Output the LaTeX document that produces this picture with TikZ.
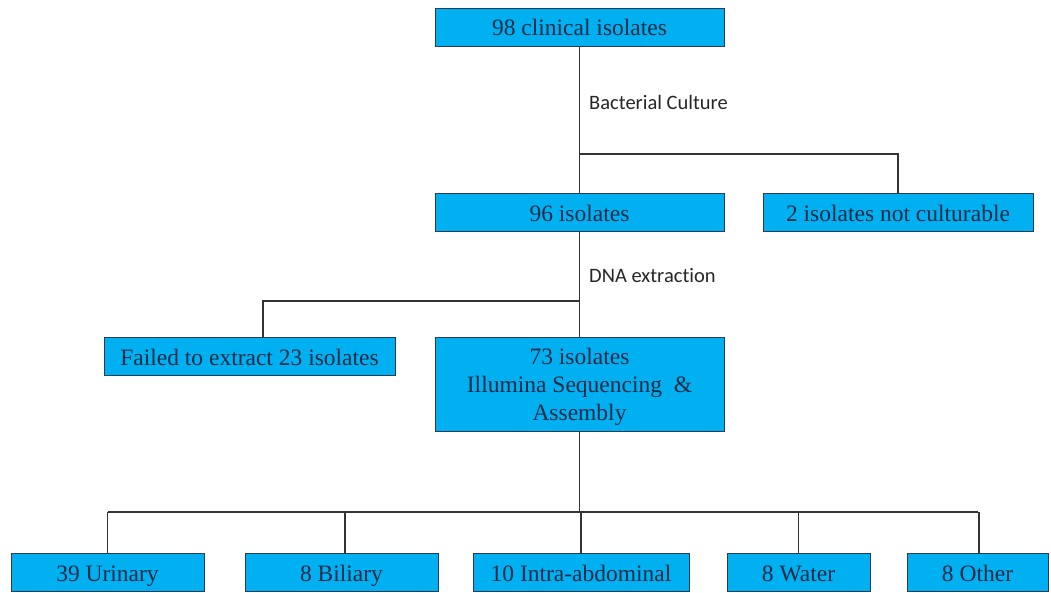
\documentclass[tikz,border=0pt]{standalone}
\usepackage{fontspec}
\setmainfont{Liberation Serif}
\newfontfamily\labelfont[Ligatures={NoCommon,NoRare}]{Carlito}
\usetikzlibrary{positioning}
\definecolor{boxblue}{HTML}{00B0F0}
\definecolor{boxedge}{HTML}{2B3A55}
\definecolor{boxtext}{HTML}{1B2A47}

\begin{document}
\begin{tikzpicture}[x=1pt,y=-1pt,
  stagebase/.style={draw=boxedge,line width=1pt,fill=boxblue,text=boxtext,
    inner sep=0pt,minimum height=38pt,align=center,
    font=\fontsize{23.5}{28}\selectfont},
  stage/.style={stagebase,text height=19pt,text depth=2pt},
  steplabel/.style={anchor=west,inner sep=0pt,text=black!85,
    font=\labelfont\fontsize{20.5}{24}\selectfont},
  link/.style={draw=black!80,line width=1.1pt}]
\useasboundingbox (0,0) rectangle (1051,592);

\node[stage,minimum width=289pt] (clinical) at (579.5,27) {98 clinical isolates};
\node[stage,minimum width=289pt] (cultured) at (579.5,212.5) {96 isolates};
\node[stage,minimum width=270pt] (notcult) at (898,212.5) {2 isolates not culturable};
\node[stage,minimum width=291pt] (failed) at (249.5,356.5) {Failed to extract 23 isolates};
\node[stagebase,minimum width=289pt,minimum height=94pt] (seq) at (579.5,384)
  {\rule{0pt}{23pt}73 isolates\\Illumina Sequencing \ \&\\Assembly};

\node[stage,minimum width=193pt] (urinary) at (107.5,572.5) {39 Urinary};
\node[stage,minimum width=193pt] (biliary) at (341.5,572.5) {8 Biliary};
\node[stage,minimum width=216pt] (intra) at (581,572.5) {10 Intra-abdominal};
\node[stage,minimum width=143pt] (water) at (798.5,572.5) {8 Water};
\node[stage,minimum width=141pt] (other) at (977.5,572.5) {8 Other};

\node[steplabel] (culture) at (589,102) {Bacterial Culture};
\node[steplabel] (dna) at (589,276) {DNA extraction};

\coordinate (split1) at (579.5,154);
\coordinate (split2) at (579.5,301);
\coordinate (split3) at (579.5,512);

\draw[link] (clinical) -- (split1) -- (cultured);
\draw[link] (split1) -| (notcult);
\draw[link] (cultured) -- (split2) -- (seq);
\draw[link] (split2) -| ([xshift=13.5pt]failed.north);
\draw[link] (seq) -- (split3);
\draw[link] (split3 -| urinary) -- (split3 -| other);
\foreach \n/\dx in {urinary/0,biliary/3.5,intra/0,water/0,other/1.5}
  \draw[link] ([xshift=\dx pt]split3 -| \n) -- ([xshift=\dx pt]\n.north);
\end{tikzpicture}
\end{document}
